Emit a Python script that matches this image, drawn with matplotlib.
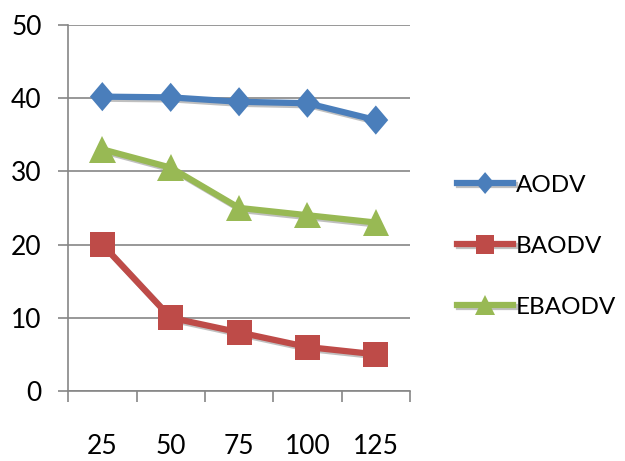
#!/usr/bin/env python3

import matplotlib.pyplot as plt
from matplotlib import patheffects as pe
from matplotlib.path import Path

out_filename = "out.png"

nodes = ["25", "50", "75", "100", "125"]
aodv = [40.2, 40.1, 39.5, 39.3, 37.0]
baodv = [20, 10, 8, 6, 5]
ebaodv = [33, 30.5, 25, 24, 23]

plt.rcParams["font.family"] = ["Lato", "DejaVu Sans"]

# slightly tall diamond, like the spreadsheet default
diamond = Path([(0, 1), (0.85, 0), (0, -1), (-0.85, 0), (0, 1)],
               [Path.MOVETO, Path.LINETO, Path.LINETO, Path.LINETO, Path.CLOSEPOLY])


def main():
    fig = plt.figure(figsize=(6.25, 4.61), dpi=100)
    ax = fig.add_axes([0.109, 0.152, 0.547, 0.794])

    xs = range(1, len(nodes) + 1)
    shadow = [pe.SimpleLineShadow(offset=(1.5, -1.5), shadow_color="0.3", alpha=0.35),
              pe.Normal()]
    series = [
        ("AODV", aodv, "#4a7ebb", diamond, 21),
        ("BAODV", baodv, "#be4b48", "s", 18),
        ("EBAODV", ebaodv, "#98b954", "^", 19),
    ]
    for label, ys, color, marker, size in series:
        ax.plot(xs, ys, color=color, linewidth=4.5, marker=marker,
                markersize=size, markeredgewidth=0, label=label,
                solid_joinstyle="miter", path_effects=shadow, zorder=3)

    ax.set_xlim(0.5, 5.5)
    ax.set_ylim(0, 50)
    ax.set_yticks(range(0, 51, 10))
    ax.set_xticks(list(xs))
    ax.set_xticklabels(nodes)
    ax.set_xticks([i + 0.5 for i in range(0, 6)], minor=True)
    ax.tick_params(axis="x", which="major", length=0, pad=31, labelsize=19)
    ax.tick_params(axis="x", which="minor", length=8, width=1.2, color="#868686")
    ax.tick_params(axis="y", length=7, width=1.2, color="#868686", pad=12,
                   labelsize=19)

    ax.grid(axis="y", color="#868686", linewidth=1.2, zorder=0)
    ax.set_axisbelow(True)
    for side in ("top", "right"):
        ax.spines[side].set_visible(False)
    for side in ("left", "bottom"):
        ax.spines[side].set_color("#868686")
        ax.spines[side].set_linewidth(1.2)

    fig.legend(loc="center left", bbox_to_anchor=(0.712, 0.466), frameon=False,
               fontsize=17.5, markerscale=0.75, handlelength=2.3,
               handletextpad=0.1, labelspacing=1.65, borderpad=0)

    fig.savefig(out_filename, dpi=100)
    plt.close()


if __name__ == "__main__":
    main()
